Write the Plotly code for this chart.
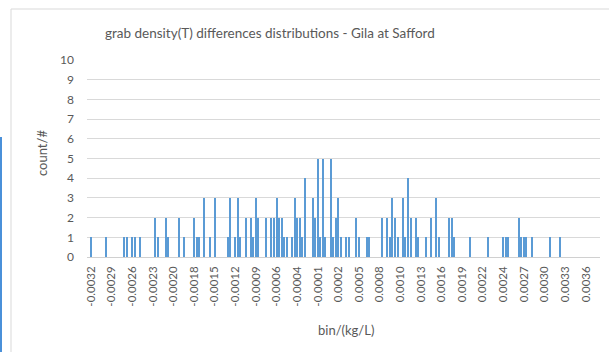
import plotly.graph_objects as go

# Histogram bins (lower edge of each occupied bin, kg/L) and their counts
bin_width = 0.000035
bin_start = -0.00316
bins = [
    -0.003160, -0.002950, -0.002705, -0.002670, -0.002600, -0.002565, -0.002495,
    -0.002285, -0.002250, -0.002145, -0.002110, -0.001970, -0.001900,
    -0.001760, -0.001725, -0.001690, -0.001620, -0.001550, -0.001480,
    -0.001305, -0.001270, -0.001200, -0.001165, -0.001130, -0.001060,
    -0.000990, -0.000955, -0.000920, -0.000885, -0.000780, -0.000710,
    -0.000675, -0.000640, -0.000605, -0.000570, -0.000535, -0.000500,
    -0.000430, -0.000395, -0.000360, -0.000325, -0.000290, -0.000255,
    -0.000150, -0.000115, -0.000080, -0.000045, -0.000010, 0.000025,
    0.000095, 0.000130, 0.000165, 0.000200, 0.000235, 0.000305, 0.000340,
    0.000445, 0.000480, 0.000585, 0.000620, 0.000795, 0.000865, 0.000900,
    0.000935, 0.000970, 0.001005, 0.001075, 0.001110, 0.001145, 0.001180,
    0.001250, 0.001285, 0.001390, 0.001460, 0.001530, 0.001565,
    0.001705, 0.001740, 0.001775, 0.001985, 0.002230,
    0.002440, 0.002475, 0.002510, 0.002650, 0.002685, 0.002720, 0.002755,
    0.002825, 0.003070, 0.003210,
]
counts = [
    1, 1, 1, 1, 1, 1, 1,
    2, 1, 2, 1, 2, 1,
    2, 1, 1, 3, 1, 3,
    1, 3, 1, 3, 1, 2,
    2, 1, 3, 2, 2, 2,
    2, 3, 2, 2, 1, 1,
    1, 3, 2, 2, 1, 4,
    3, 2, 5, 1, 5, 1,
    5, 1, 2, 3, 1, 1, 1,
    2, 1, 1, 1, 2, 2, 1,
    3, 2, 1, 3, 1, 4, 2,
    2, 1, 1, 2, 3, 1,
    2, 2, 1, 1, 1,
    1, 1, 1, 2, 1, 1, 1,
    1, 1, 1,
]

# Every 8th bin carries a label on the category axis
tick_labels = [
    "-0.0032", "-0.0029", "-0.0026", "-0.0023", "-0.0020", "-0.0018", "-0.0015",
    "-0.0012", "-0.0009", "-0.0006", "-0.0004", "-0.0001", "0.0002", "0.0005",
    "0.0008", "0.0010", "0.0013", "0.0016", "0.0019", "0.0022", "0.0024",
    "0.0027", "0.0030", "0.0033", "0.0036",
]
label_every = 8
tick_vals = [bin_start + k * label_every * bin_width for k in range(len(tick_labels))]

FONT = "Lato"
GREY = "#595959"

fig = go.Figure(
    go.Bar(
        x=bins,
        y=counts,
        width=0.42 * bin_width,
        marker=dict(color="#5B9BD5", line=dict(width=0)),
        hovertemplate="bin %{x:.6f}<br>count %{y}<extra></extra>",
    )
)

# plot area spans x 87..600 px and y 60..257 px
L, R, T, B = 87, 9, 60, 95
W, H = 609, 352
pw, ph = W - L - R, H - T - B


def px_x(p):
    return (p - L) / pw


def px_y(p):
    return (H - B - p) / ph


fig.update_layout(
    width=W,
    height=H,
    margin=dict(l=L, r=R, t=T, b=B),
    paper_bgcolor="white",
    plot_bgcolor="white",
    showlegend=False,
    bargap=0,
    font=dict(family=FONT, color=GREY),
    xaxis=dict(
        range=[bin_start - 0.0000545, bin_start + 0.006913],
        tickmode="array",
        tickvals=tick_vals,
        ticktext=tick_labels,
        tickangle=-90,
        tickfont=dict(size=11.5, color=GREY, family=FONT),
        showgrid=False,
        zeroline=False,
        showline=False,
        ticks="",
        ticklabelstandoff=6,
    ),
    yaxis=dict(
        range=[0, 10],
        dtick=1,
        tickfont=dict(size=12, color=GREY, family=FONT),
        showgrid=True,
        gridcolor="#D9D9D9",
        gridwidth=1,
        zeroline=True,
        zerolinecolor="#D0D0D0",
        zerolinewidth=1,
        showline=False,
        ticks="",
        ticklabelstandoff=12,
    ),
    annotations=[
        dict(
            text="grab density(T) differences distributions - Gila at Safford",
            xref="paper", yref="paper",
            x=px_x(270), y=px_y(33),
            xanchor="center", yanchor="middle",
            showarrow=False,
            font=dict(size=13.5, color=GREY, family=FONT),
        ),
        dict(
            text="count/#",
            xref="paper", yref="paper",
            x=px_x(42), y=px_y(153),
            xanchor="center", yanchor="middle",
            textangle=-90,
            showarrow=False,
            font=dict(size=13, color=GREY, family=FONT),
        ),
        dict(
            text="bin/(kg/L)",
            xref="paper", yref="paper",
            x=px_x(346), y=px_y(330),
            xanchor="center", yanchor="middle",
            showarrow=False,
            font=dict(size=13, color=GREY, family=FONT),
        ),
    ],
    shapes=[
        # chart frame
        dict(
            type="rect", xref="paper", yref="paper",
            x0=px_x(11), x1=px_x(612), y0=px_y(356), y1=px_y(9),
            line=dict(color="#D9D9D9", width=1),
            fillcolor="rgba(0,0,0,0)", layer="below",
        ),
        # blue edge strip on the left
        dict(
            type="rect", xref="paper", yref="paper",
            x0=px_x(-1), x1=px_x(2), y0=px_y(356), y1=px_y(137),
            line=dict(width=0),
            fillcolor="#4A90D9",
        ),
    ],
)

fig.write_html("out.html")
